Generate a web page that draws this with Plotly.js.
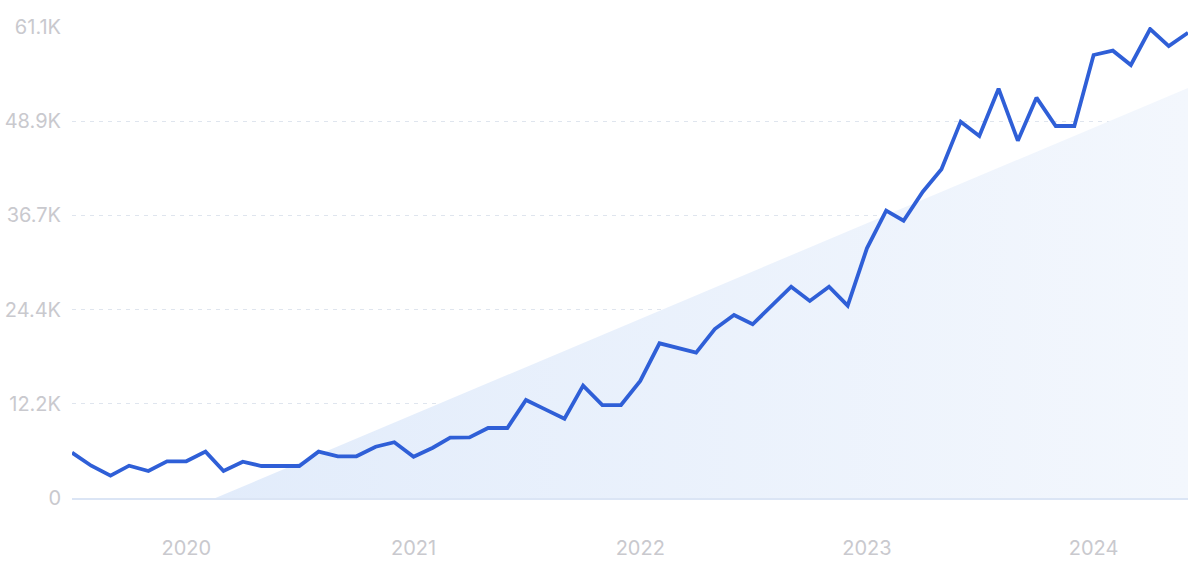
<!DOCTYPE html>
<html>
<head>
<meta charset="utf-8">
<script src="https://cdn.plot.ly/plotly-3.0.1.min.js"></script>
<style>
  html, body { margin: 0; padding: 0; background: #ffffff; }
  #chart { width: 1200px; height: 562px; }
</style>
</head>
<body>
<div id="chart"></div>
<script>
// Monthly values, July 2019 – June 2024
const months = [
  '2019-07-01','2019-08-01','2019-09-01','2019-10-01','2019-11-01','2019-12-01',
  '2020-01-01','2020-02-01','2020-03-01','2020-04-01','2020-05-01','2020-06-01',
  '2020-07-01','2020-08-01','2020-09-01','2020-10-01','2020-11-01','2020-12-01',
  '2021-01-01','2021-02-01','2021-03-01','2021-04-01','2021-05-01','2021-06-01',
  '2021-07-01','2021-08-01','2021-09-01','2021-10-01','2021-11-01','2021-12-01',
  '2022-01-01','2022-02-01','2022-03-01','2022-04-01','2022-05-01','2022-06-01',
  '2022-07-01','2022-08-01','2022-09-01','2022-10-01','2022-11-01','2022-12-01',
  '2023-01-01','2023-02-01','2023-03-01','2023-04-01','2023-05-01','2023-06-01',
  '2023-07-01','2023-08-01','2023-09-01','2023-10-01','2023-11-01','2023-12-01',
  '2024-01-01','2024-02-01','2024-03-01','2024-04-01','2024-05-01','2024-06-01'
];
const searches = [
  5880, 4190, 2890, 4190, 3500, 4760,
  4760, 6010, 3500, 4710, 4150, 4150,
  4150, 6010, 5410, 5410, 6650, 7230,
  5360, 6520, 7820, 7870, 9080, 9080,
  12710, 11500, 10290, 14570, 12060, 12060,
  15180, 20070, 19460, 18850, 21920, 23740,
  22530, 24950, 27410, 25560, 27410, 24950,
  32390, 37270, 35970, 39740, 42640, 48820,
  46960, 53100, 46350, 51930, 48260, 48260,
  57470, 58030, 56170, 60840, 58630, 60360
];
// Trend wedge (background shading)
const trendDates = ['2020-02-17', '2024-06-01'];
const trendValues = [0, 53200];
// Axis ticks
const yTickVals = [0, 12220, 24440, 36660, 48880, 61100];
const yTickText = ['0', '12.2K', '24.4K', '36.7K', '48.9K', '61.1K'];
const xTickVals = ['2020-01-01', '2021-01-01', '2022-01-01', '2023-01-01', '2024-01-01'];
const xTickText = ['2020', '2021', '2022', '2023', '2024'];

const trend = {
  x: trendDates, y: trendValues, type: 'scatter', mode: 'lines',
  line: { width: 0, color: 'rgba(0,0,0,0)' },
  fill: 'tozeroy',
  fillcolor: '#e6effc',
  fillgradient: {
    type: 'horizontal',
    colorscale: [[0, '#e2ecfb'], [1, '#f3f7fd']]
  },
  hoverinfo: 'skip', showlegend: false
};
const line = {
  x: months, y: searches, type: 'scatter', mode: 'lines',
  line: { color: '#2f5fd7', width: 3.8, shape: 'linear' },
  showlegend: false
};

const layout = {
  width: 1200, height: 562,
  margin: { l: 72, r: 12, t: 27, b: 64 },
  paper_bgcolor: '#ffffff', plot_bgcolor: '#ffffff',
  font: { family: 'Inter, Roboto, sans-serif', color: '#c9c9ce', size: 20 },
  showlegend: false,
  xaxis: {
    type: 'date',
    range: ['2019-07-01', '2024-06-01'],
    tickvals: xTickVals, ticktext: xTickText,
    showgrid: false, zeroline: false,
    showline: true, linecolor: '#dbe5f5', linewidth: 1.5,
    ticks: 'outside', ticklen: 31, tickcolor: 'rgba(0,0,0,0)',
    tickfont: { size: 20, color: '#c9c9ce' },
    fixedrange: true
  },
  yaxis: {
    range: [0, 61100],
    tickvals: yTickVals, ticktext: yTickText,
    showgrid: true, gridcolor: '#dfe5ee', griddash: '4px,5px', gridwidth: 1,
    zeroline: false, showline: false,
    ticks: 'outside', ticklen: 6, tickcolor: 'rgba(0,0,0,0)',
    tickfont: { size: 20, color: '#c9c9ce' },
    fixedrange: true
  }
};

Plotly.newPlot('chart', [trend, line], layout, { displayModeBar: false, staticPlot: true });
</script>
</body>
</html>
